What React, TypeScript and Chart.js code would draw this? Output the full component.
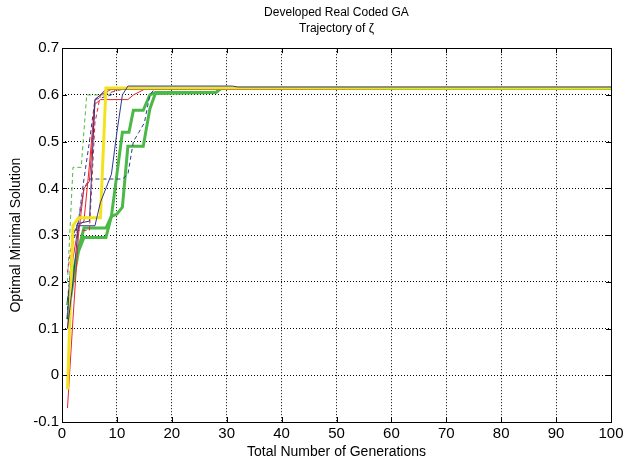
import React, { useEffect, useRef } from "react";
import { Chart, registerables } from "chart.js";

Chart.register(...registerables);

const titleLines = ["Developed Real Coded GA", "Trajectory of ζ"];
const xTitle = "Total Number of Generations";
const yTitle = "Optimal Minimal Solution";

// generation / value pairs for each run
const greenDashedGen = [1, 2, 3.5, 4.5, 8.5, 9.5, 100];
const greenDashedVal = [0.2, 0.445, 0.445, 0.6, 0.6, 0.612, 0.614];

const greenThickAGen = [1, 2, 3, 4, 8, 9, 10, 11, 12, 14.8, 16, 17, 28, 29, 100];
const greenThickAVal = [0.12, 0.2, 0.265, 0.295, 0.295, 0.34, 0.345, 0.36, 0.49, 0.49, 0.57, 0.603, 0.605, 0.614, 0.614];

const greenThickBGen = [1, 2, 3, 4, 8, 9, 10, 11, 12.2, 13, 14.8, 16, 17, 28, 29, 100];
const greenThickBVal = [0.15, 0.22, 0.27, 0.315, 0.315, 0.34, 0.43, 0.52, 0.52, 0.567, 0.567, 0.6, 0.605, 0.605, 0.614, 0.614];

const redAGen = [1, 2, 3, 4, 5, 6, 7, 12, 13, 15, 100];
const redAVal = [-0.07, 0.12, 0.3, 0.4, 0.415, 0.58, 0.59, 0.59, 0.6, 0.612, 0.615];

const redBGen = [1, 2, 3, 4, 5, 6, 7, 9, 100];
const redBVal = [0.1, 0.25, 0.32, 0.33, 0.45, 0.59, 0.6, 0.612, 0.615];

const redDashedGen = [1, 2, 3, 5, 6, 7, 11, 100];
const redDashedVal = [0.22, 0.3, 0.31, 0.31, 0.54, 0.6, 0.612, 0.615];

const blueAGen = [1, 2, 3, 6, 7, 8, 9, 10, 11, 12, 31, 32, 100];
const blueAVal = [0.1, 0.2, 0.32, 0.32, 0.37, 0.4, 0.43, 0.52, 0.6, 0.619, 0.619, 0.617, 0.617];

const blueBGen = [1, 2, 3, 5, 6, 7, 8, 100];
const blueBVal = [0.12, 0.3, 0.325, 0.33, 0.59, 0.6, 0.612, 0.615];

const blueDashedAGen = [1, 2, 3, 4, 5, 11, 12, 13, 14, 15, 16, 17, 100];
const blueDashedAVal = [0.14, 0.3, 0.33, 0.4, 0.42, 0.42, 0.43, 0.5, 0.52, 0.54, 0.6, 0.615, 0.615];

const blueDashedBGen = [1, 2, 3, 4, 5, 6, 9, 10, 100];
const blueDashedBVal = [0.16, 0.28, 0.33, 0.42, 0.5, 0.59, 0.6, 0.615, 0.615];

const yellowGen = [1, 2, 3, 7, 8, 100];
const yellowVal = [-0.03, 0.32, 0.337, 0.337, 0.615, 0.615];

const xTicksMin = 0;
const xTicksMax = 100;
const yTicksMin = -0.1;
const yTicksMax = 0.7;

const RED = "#e8232a";
const BLUE = "#2b3990";
const GREEN = "#4cb848";
const YELLOW = "#f4e31c";

function pts(g: number[], v: number[]) {
  return g.map((x, i) => ({ x, y: v[i] }));
}

const boxPlugin = {
  id: "matlabBox",
  afterDatasetsDraw(chart: any) {
    const { ctx, chartArea } = chart;
    const { left, right, top, bottom } = chartArea;
    const xs = chart.scales.x;
    const ys = chart.scales.y;
    ctx.save();
    ctx.strokeStyle = "#000";
    ctx.lineWidth = 1;
    ctx.setLineDash([]);
    ctx.beginPath();
    const tl = 5;
    xs.ticks.forEach((t: any) => {
      const p = Math.round(xs.getPixelForValue(t.value)) + 0.5;
      ctx.moveTo(p, bottom);
      ctx.lineTo(p, bottom - tl);
      ctx.moveTo(p, top);
      ctx.lineTo(p, top + tl);
    });
    ys.ticks.forEach((t: any) => {
      const p = Math.round(ys.getPixelForValue(t.value)) + 0.5;
      ctx.moveTo(left, p);
      ctx.lineTo(left + tl, p);
      ctx.moveTo(right, p);
      ctx.lineTo(right - tl, p);
    });
    ctx.stroke();
    ctx.strokeRect(Math.round(left) + 0.5, Math.round(top) + 0.5, Math.round(right - left), Math.round(bottom - top));
    ctx.restore();
  },
};

export default function App() {
  const ref = useRef<HTMLCanvasElement>(null);
  useEffect(() => {
    if (!ref.current) return;
    const font = "'Liberation Sans', Arial, sans-serif";
    const mk = (label: string, g: number[], v: number[], color: string, width: number, dash: number[] = []) => ({
      label,
      data: pts(g, v),
      borderColor: color,
      backgroundColor: color,
      borderWidth: width,
      borderDash: dash,
      pointRadius: 0,
      tension: 0,
      fill: false,
    });
    // listed bottom-most first; reversed so later ones paint on top
    const layers = [
      mk("g-dash", greenDashedGen, greenDashedVal, GREEN, 1, [4, 3]),
      mk("g-a", greenThickAGen, greenThickAVal, GREEN, 3),
      mk("g-b", greenThickBGen, greenThickBVal, GREEN, 3),
      mk("b-dash-a", blueDashedAGen, blueDashedAVal, BLUE, 1, [4, 3]),
      mk("b-dash-b", blueDashedBGen, blueDashedBVal, BLUE, 1, [4, 3]),
      mk("r-dash", redDashedGen, redDashedVal, RED, 1, [4, 3]),
      mk("r-a", redAGen, redAVal, RED, 1),
      mk("r-b", redBGen, redBVal, RED, 1),
      mk("b-b", blueBGen, blueBVal, BLUE, 1),
      mk("y", yellowGen, yellowVal, YELLOW, 3),
      mk("b-a", blueAGen, blueAVal, BLUE, 1),
    ].reverse();
    const chart = new Chart(ref.current, {
      type: "line",
      data: { datasets: layers },
      options: {
        animation: false,
        responsive: true,
        maintainAspectRatio: false,
        layout: { padding: { top: 0, right: 16, left: 0, bottom: 0 } },
        plugins: {
          legend: { display: false },
          tooltip: { enabled: false },
          title: {
            display: true,
            text: titleLines,
            fullSize: false,
            color: "#000",
            font: { family: font, size: 12, weight: "normal", lineHeight: 1.3 },
            padding: { top: 5, bottom: 12 },
          },
        },
        scales: {
          x: {
            type: "linear",
            min: xTicksMin,
            max: xTicksMax,
            ticks: { stepSize: 10, color: "#000", font: { family: font, size: 15 }, padding: 3, maxRotation: 0 },
            grid: { color: "#000", lineWidth: 1, drawTicks: false },
            border: { display: false, dash: [1, 2] },
            title: { display: true, text: xTitle, color: "#000", font: { family: font, size: 14 }, padding: { top: 0, bottom: 2 } },
            afterFit: (s: any) => {
              s.height = 41;
            },
          },
          y: {
            type: "linear",
            min: yTicksMin,
            max: yTicksMax,
            ticks: {
              stepSize: 0.1,
              color: "#000",
              font: { family: font, size: 15 },
              padding: 3,
              callback: (v: any) => {
                const n = Math.round(Number(v) * 10) / 10;
                return n === 0 ? "0" : n.toFixed(1);
              },
            },
            grid: { color: "#000", lineWidth: 1, drawTicks: false },
            border: { display: false, dash: [1, 2] },
            title: { display: true, text: yTitle, color: "#000", font: { family: font, size: 14 }, padding: { top: 8, bottom: 0 } },
            afterFit: (s: any) => {
              s.width = 62;
            },
          },
        },
      },
      plugins: [boxPlugin],
    });
    return () => chart.destroy();
  }, []);
  return (
    <div style={{ position: "absolute", left: 0, top: 0, width: 627, height: 463, background: "#fff" }}>
      <canvas ref={ref} />
    </div>
  );
}
